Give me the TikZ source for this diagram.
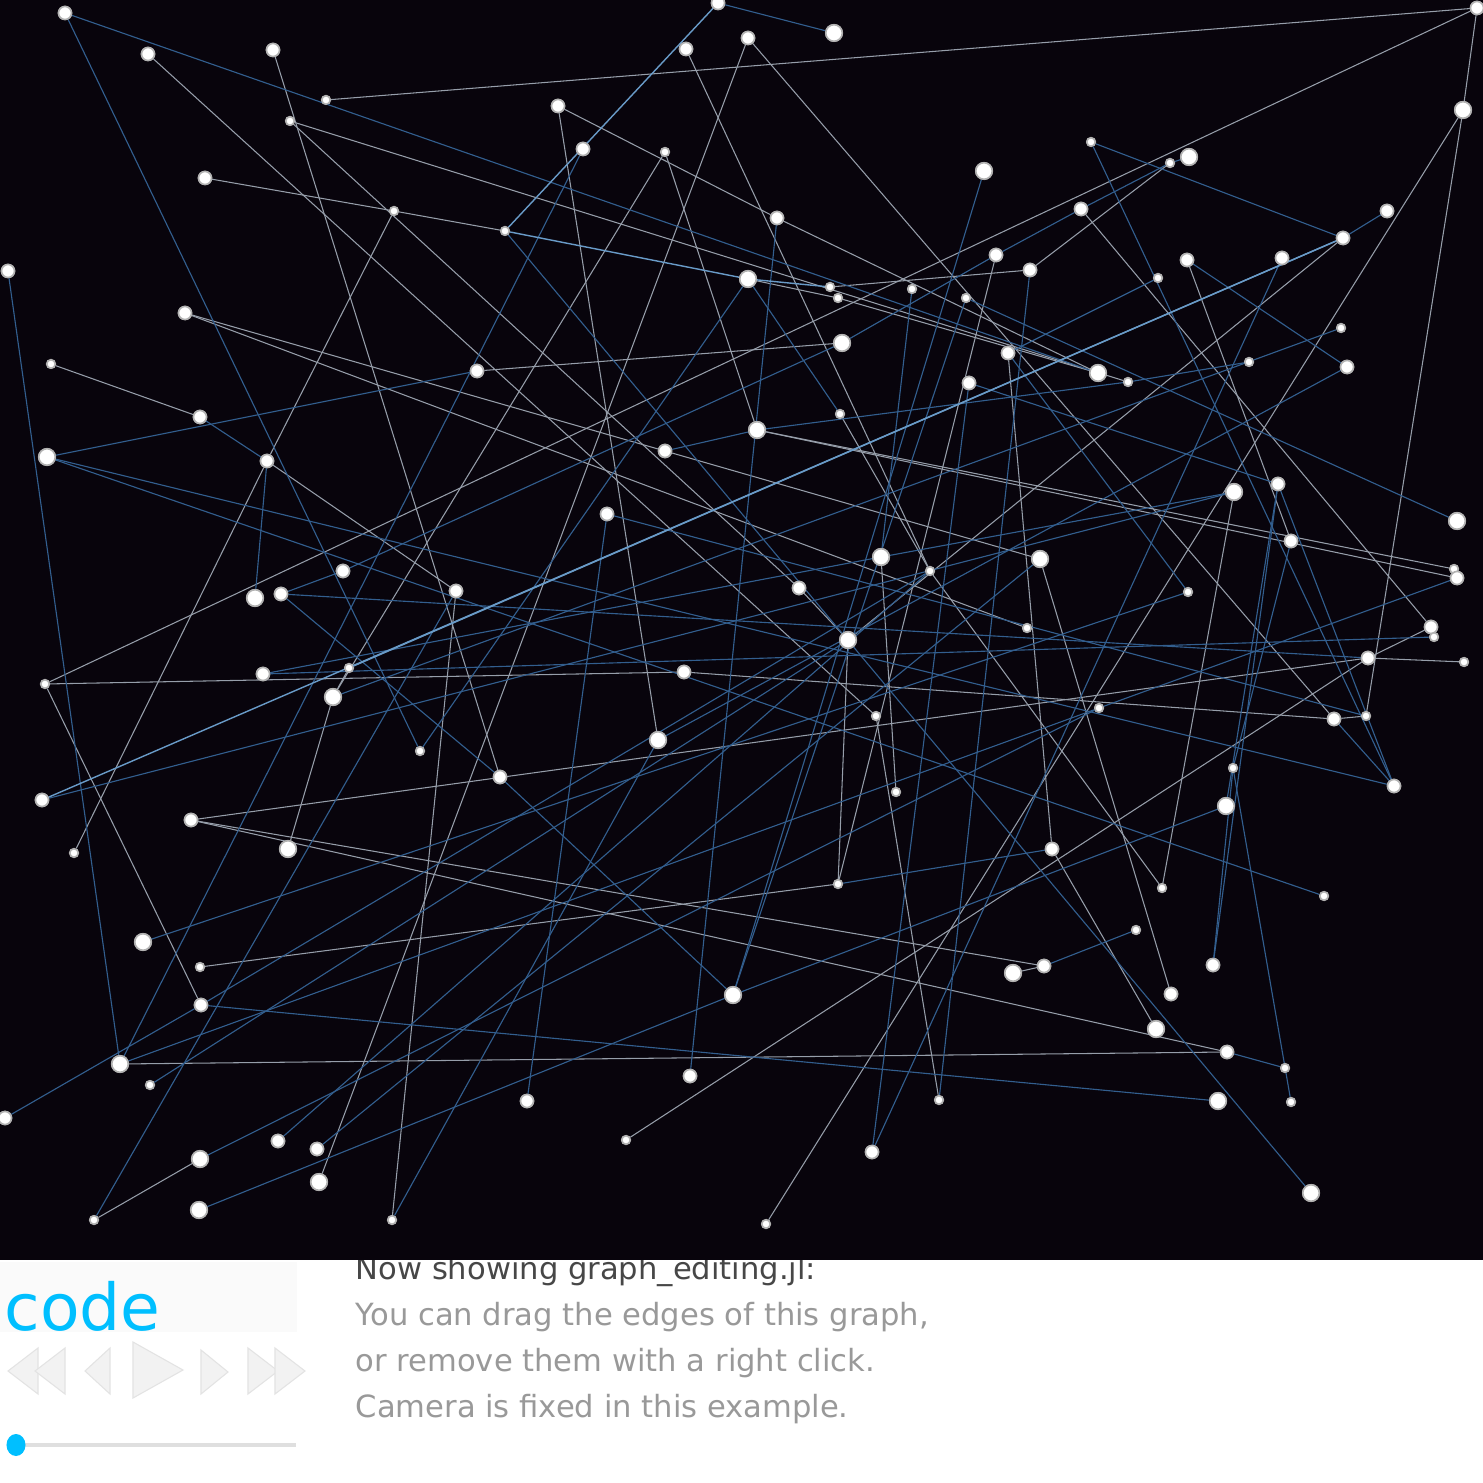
\documentclass[tikz,border=0pt]{standalone}
\usepackage{fontspec}
\setmainfont{DejaVu Sans}
\definecolor{bgdark}{RGB}{8,4,12}
\definecolor{egray}{RGB}{150,158,170}
\definecolor{eblue}{RGB}{50,94,142}
\definecolor{ebright}{RGB}{105,155,200}
\definecolor{codecyan}{RGB}{0,191,255}
\tikzset{
  vtx/.style={circle,fill=white,draw=gray!60,line width=0.45pt,inner sep=0pt},
  L/.style={vtx,minimum size=0.165cm},
  M/.style={vtx,minimum size=0.13cm},
  S/.style={vtx,minimum size=0.085cm},
  eg/.style={draw=egray,line width=0.3pt},
  eb/.style={draw=eblue,line width=0.32pt},
  ebr/.style={draw=ebright,line width=0.4pt},
  tri/.style={fill=gray!10,draw=gray!22,line width=0.3pt},
  txt/.style={anchor=base west,inner sep=0pt,font=\fontsize{8.7pt}{10pt}\selectfont}
}
\begin{document}
\begin{tikzpicture}[x=0.01cm,y=-0.01cm]
\useasboundingbox (0,0) rectangle (1483,1483);
\fill[white] (0,0) rectangle (1483,1483);
% bottom panel
\fill[gray!4] (0,1262) rectangle (297,1332);
\node[anchor=base west,inner sep=0pt,text=codecyan,font=\fontsize{18.4pt}{20pt}\selectfont] (code) at (4,1330) {code};
\node[txt,text=black!72] (t0) at (355,1279) {Now showing graph\_editing.jl:};
\node[txt,text=black!40] (t1) at (355,1325) {You can drag the edges of this graph,};
\node[txt,text=black!40] (t2) at (355,1371) {or remove them with a right click.};
\node[txt,text=black!40] (t3) at (355,1417) {Camera is fixed in this example.};
% controls
\path[tri] (38,1348) -- (8,1371) -- (38,1394) -- cycle;
\path[tri] (65,1348) -- (35,1371) -- (65,1394) -- cycle;
\path[tri] (110,1348) -- (85,1371) -- (110,1394) -- cycle;
\path[tri] (133,1342) -- (183,1370) -- (133,1398) -- cycle;
\path[tri] (201,1350) -- (228,1372) -- (201,1394) -- cycle;
\path[tri] (248,1348) -- (278,1371) -- (248,1394) -- cycle;
\path[tri] (275,1348) -- (305,1371) -- (275,1394) -- cycle;
\draw[gray!25,line width=1.2pt] (16,1445) -- (296,1445);
\fill[codecyan] (16,1445) ellipse (0.095cm and 0.11cm);
% dark graph area
\fill[bgdark] (0,0) rectangle (1483,1260);
% nodes
\node[M] (n1) at (65,13) {};
\node[M] (n2) at (148,54) {};
\node[M] (n3) at (273,50) {};
\node[S] (n4) at (326,100) {};
\node[S] (n5) at (290,121) {};
\node[M] (n6) at (718,3) {};
\node[L] (n7) at (834,33) {};
\node[M] (n8) at (686,49) {};
\node[M] (n9) at (748,38) {};
\node[M] (n10) at (1477,8) {};
\node[L] (n11) at (1463,110) {};
\node[M] (n12) at (558,106) {};
\node[M] (n13) at (583,149) {};
\node[S] (n14) at (665,152) {};
\node[M] (n15) at (205,178) {};
\node[S] (n16) at (394,211) {};
\node[S] (n17) at (505,231) {};
\node[M] (n18) at (777,218) {};
\node[L] (n19) at (984,171) {};
\node[S] (n20) at (1091,142) {};
\node[S] (n21) at (1170,163) {};
\node[L] (n22) at (1189,157) {};
\node[M] (n23) at (1387,211) {};
\node[M] (n24) at (1081,209) {};
\node[M] (n25) at (1343,238) {};
\node[M] (n26) at (8,271) {};
\node[L] (n27) at (748,279) {};
\node[S] (n28) at (830,287) {};
\node[S] (n29) at (838,298) {};
\node[S] (n30) at (912,289) {};
\node[S] (n31) at (966,298) {};
\node[M] (n32) at (996,255) {};
\node[M] (n33) at (1030,270) {};
\node[M] (n34) at (1187,260) {};
\node[M] (n35) at (1282,258) {};
\node[S] (n36) at (1158,278) {};
\node[M] (n37) at (185,313) {};
\node[L] (n38) at (842,343) {};
\node[S] (n39) at (51,364) {};
\node[M] (n40) at (477,371) {};
\node[M] (n41) at (1008,353) {};
\node[L] (n42) at (1098,373) {};
\node[S] (n43) at (1128,382) {};
\node[M] (n44) at (969,383) {};
\node[S] (n45) at (1341,328) {};
\node[M] (n46) at (1347,367) {};
\node[S] (n47) at (1249,362) {};
\node[M] (n48) at (200,417) {};
\node[S] (n49) at (840,414) {};
\node[L] (n50) at (757,430) {};
\node[L] (n51) at (47,457) {};
\node[M] (n52) at (267,461) {};
\node[M] (n53) at (665,451) {};
\node[M] (n54) at (607,514) {};
\node[L] (n55) at (1234,492) {};
\node[M] (n56) at (1278,484) {};
\node[M] (n57) at (1291,541) {};
\node[L] (n58) at (1457,521) {};
\node[L] (n59) at (1040,559) {};
\node[L] (n60) at (881,557) {};
\node[S] (n61) at (930,571) {};
\node[M] (n62) at (343,571) {};
\node[M] (n63) at (456,591) {};
\node[L] (n64) at (255,598) {};
\node[M] (n65) at (281,594) {};
\node[M] (n66) at (799,588) {};
\node[S] (n67) at (1188,592) {};
\node[S] (n68) at (1454,569) {};
\node[M] (n69) at (1457,578) {};
\node[S] (n70) at (1027,628) {};
\node[L] (n71) at (848,640) {};
\node[M] (n72) at (1431,627) {};
\node[S] (n73) at (1434,637) {};
\node[S] (n74) at (45,684) {};
\node[M] (n75) at (263,674) {};
\node[S] (n76) at (349,668) {};
\node[L] (n77) at (333,697) {};
\node[M] (n78) at (684,672) {};
\node[M] (n79) at (1368,658) {};
\node[S] (n80) at (1464,662) {};
\node[M] (n81) at (1334,719) {};
\node[S] (n82) at (1366,716) {};
\node[S] (n83) at (1099,708) {};
\node[S] (n84) at (876,716) {};
\node[L] (n85) at (658,740) {};
\node[S] (n86) at (420,751) {};
\node[M] (n87) at (500,777) {};
\node[M] (n88) at (42,800) {};
\node[S] (n89) at (896,792) {};
\node[S] (n90) at (1233,768) {};
\node[M] (n91) at (1394,786) {};
\node[M] (n92) at (191,820) {};
\node[L] (n93) at (1226,806) {};
\node[L] (n94) at (288,849) {};
\node[S] (n95) at (74,853) {};
\node[M] (n96) at (1052,849) {};
\node[S] (n97) at (838,884) {};
\node[S] (n98) at (1162,888) {};
\node[S] (n99) at (1324,896) {};
\node[L] (n100) at (143,942) {};
\node[S] (n101) at (200,967) {};
\node[S] (n102) at (1136,930) {};
\node[L] (n103) at (1013,973) {};
\node[M] (n104) at (1044,966) {};
\node[M] (n105) at (1213,965) {};
\node[M] (n106) at (201,1005) {};
\node[L] (n107) at (733,995) {};
\node[M] (n108) at (1171,994) {};
\node[L] (n109) at (1156,1029) {};
\node[L] (n110) at (120,1064) {};
\node[S] (n111) at (150,1085) {};
\node[M] (n112) at (690,1076) {};
\node[M] (n113) at (1227,1052) {};
\node[S] (n114) at (1285,1068) {};
\node[M] (n115) at (527,1101) {};
\node[S] (n116) at (939,1100) {};
\node[L] (n117) at (1218,1101) {};
\node[S] (n118) at (1291,1102) {};
\node[M] (n119) at (5,1118) {};
\node[M] (n120) at (278,1141) {};
\node[M] (n121) at (317,1149) {};
\node[S] (n122) at (626,1140) {};
\node[L] (n123) at (200,1159) {};
\node[M] (n124) at (872,1152) {};
\node[L] (n125) at (319,1182) {};
\node[L] (n126) at (199,1210) {};
\node[L] (n127) at (1311,1193) {};
\node[S] (n128) at (94,1220) {};
\node[S] (n129) at (392,1220) {};
\node[S] (n130) at (766,1224) {};
% edges
\foreach \a/\b in {n2/n84,n3/n87,n4/n10,n5/n43,n5/n66,n66/n71,n15/n16,n16/n17,n27/n29,n16/n52,n52/n95,n39/n48,n12/n18,n18/n42,n12/n85,n8/n61,n9/n125,n9/n81,n14/n77,n14/n50,n40/n38,n74/n10,n74/n78,n78/n81,n74/n106,n76/n77,n77/n94,n11/n130,n11/n82,n10/n11,n24/n72,n122/n79,n79/n72,n79/n80,n81/n82,n37/n53,n53/n59,n37/n70,n50/n68,n50/n69,n55/n98,n61/n98,n59/n108,n96/n109,n84/n116,n60/n89,n92/n104,n103/n104,n92/n113,n110/n113,n92/n79,n71/n97,n32/n97,n29/n42,n28/n33,n21/n33,n34/n57,n41/n96,n52/n63,n63/n129,n128/n123,n49/n61,n25/n71,n101/n97}
  \draw[eg] (\a) -- (\b);
\foreach \a/\b in {n1/n42,n1/n86,n26/n110,n6/n7,n13/n110,n18/n112,n27/n86,n27/n49,n30/n60,n33/n116,n20/n25,n20/n91,n21/n24,n24/n32,n32/n38,n22/n21,n23/n25,n88/n55,n51/n40,n51/n91,n51/n99,n48/n52,n64/n52,n65/n62,n62/n38,n65/n79,n75/n60,n60/n55,n106/n117,n110/n83,n100/n67,n111/n71,n121/n59,n120/n61,n126/n107,n107/n93,n129/n85,n128/n63,n123/n83,n31/n107,n19/n107,n31/n58,n56/n91,n56/n93,n56/n105,n57/n90,n90/n105,n90/n118,n113/n114,n69/n83,n81/n91,n44/n56,n53/n50,n50/n43,n43/n47,n36/n41,n34/n46,n85/n46,n115/n54,n54/n82,n17/n127,n41/n67,n44/n124,n35/n124,n87/n107,n65/n87,n119/n106,n106/n61,n45/n77,n97/n96,n104/n102,n75/n73}
  \draw[eb] (\a) -- (\b);
\foreach \a/\b in {n6/n17,n17/n27,n27/n28,n88/n25,n76/n25}
  \draw[ebr] (\a) -- (\b);
% redraw nodes on top of the connectors
\foreach \n/\s in {n1/M,n2/M,n3/M,n4/S,n5/S,n6/M,n7/L,n8/M,n9/M,n10/M,n11/L,n12/M,n13/M,n14/S,n15/M,n16/S,n17/S,n18/M,n19/L,n20/S,n21/S,n22/L,n23/M,n24/M,n25/M,n26/M,n27/L,n28/S,n29/S,n30/S,n31/S,n32/M,n33/M,n34/M,n35/M,n36/S,n37/M,n38/L,n39/S,n40/M,n41/M,n42/L,n43/S,n44/M,n45/S,n46/M,n47/S,n48/M,n49/S,n50/L,n51/L,n52/M,n53/M,n54/M,n55/L,n56/M,n57/M,n58/L,n59/L,n60/L,n61/S,n62/M,n63/M,n64/L,n65/M,n66/M,n67/S,n68/S,n69/M,n70/S,n71/L,n72/M,n73/S,n74/S,n75/M,n76/S,n77/L,n78/M,n79/M,n80/S,n81/M,n82/S,n83/S,n84/S,n85/L,n86/S,n87/M,n88/M,n89/S,n90/S,n91/M,n92/M,n93/L,n94/L,n95/S,n96/M,n97/S,n98/S,n99/S,n100/L,n101/S,n102/S,n103/L,n104/M,n105/M,n106/M,n107/L,n108/M,n109/L,n110/L,n111/S,n112/M,n113/M,n114/S,n115/M,n116/S,n117/L,n118/S,n119/M,n120/M,n121/M,n122/S,n123/L,n124/M,n125/L,n126/L,n127/L,n128/S,n129/S,n130/S}
  \node[\s] at (\n.center) {};
\end{tikzpicture}
\end{document}
